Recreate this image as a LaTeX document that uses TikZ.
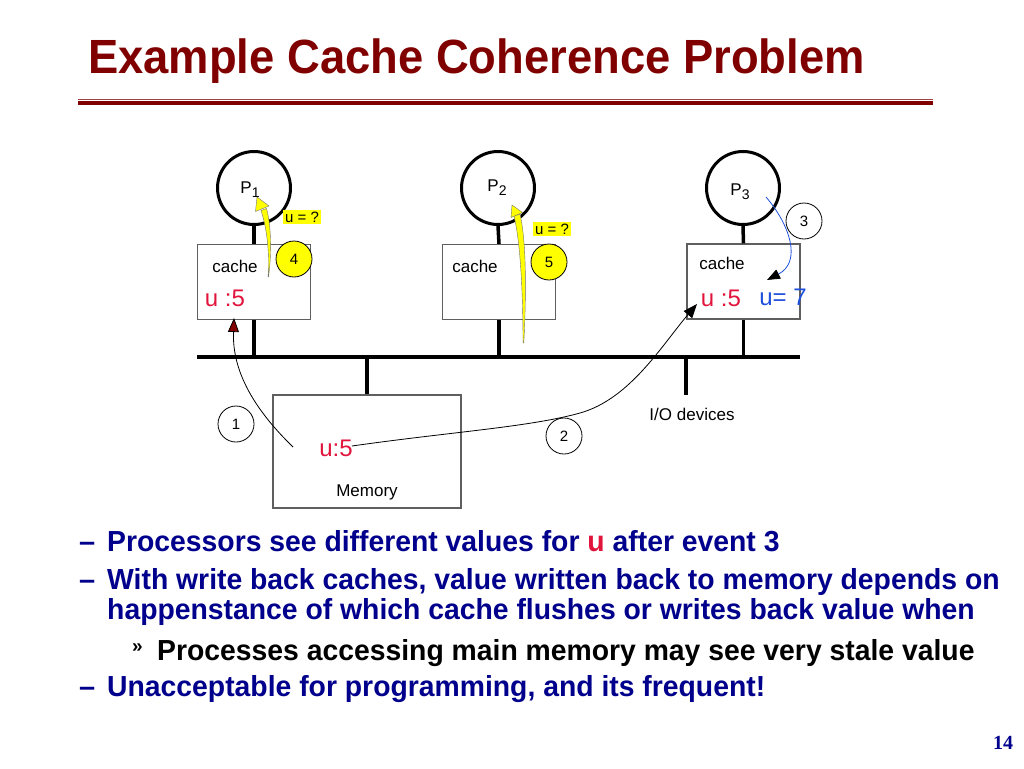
\documentclass[tikz,border=0pt]{standalone}
\usepackage{fontspec}
\setmainfont{Liberation Sans}
\newfontfamily\seriffont{Liberation Serif}
\usetikzlibrary{arrows.meta}
\definecolor{titlered}{RGB}{128,0,0}
\definecolor{navy}{RGB}{0,0,140}
\definecolor{ured}{RGB}{225,20,60}
\definecolor{ublue}{RGB}{30,80,220}
\definecolor{boxgray}{RGB}{95,95,95}
\definecolor{hl}{RGB}{255,255,0}
\definecolor{arrowred}{RGB}{130,0,0}
\newcommand{\bscale}[1]{\scalebox{0.977}[1]{#1}}
\begin{document}
\begin{tikzpicture}[x=1pt,y=-1pt,
  proc/.style={circle,draw,line width=3pt,minimum size=73pt,inner sep=0pt},
  cachebox/.style={rectangle,draw=boxgray,line width=1.2pt,minimum width=113pt,minimum height=75pt,inner sep=0pt},
  stem/.style={line width=3.5pt,black},
  lbl/.style={inner sep=0pt,font=\fontsize{17}{17}\selectfont},
  val/.style={inner sep=0pt,font=\fontsize{24}{24}\selectfont},
  evt/.style={circle,draw,line width=0.8pt,minimum size=36pt,inner sep=0pt,font=\fontsize{15}{15}\selectfont},
  yevt/.style={evt,fill=hl},
  hlabel/.style={fill=hl,inner xsep=2pt,inner ysep=1.5pt,font=\fontsize{15}{15}\selectfont},
  thinarrow/.style={line width=0.8pt,black},
  yband/.style={fill=hl,draw=black!55,line width=0.4pt},
  bullet/.style={anchor=base west,inner sep=0pt,font=\fontsize{29}{29}\selectfont\bfseries,text=navy},
]
\useasboundingbox (0,0) rectangle (1024,768);

% title
\node[anchor=base west,inner sep=0pt,text=titlered,font=\fontsize{48}{48}\selectfont\bfseries] (title) at (88,74) {\scalebox{0.945}[1]{Example Cache Coherence Problem}};
\coordinate (rl) at (78,99.5);
\coordinate (rr) at (933,99.5);
\draw[titlered!75,line width=1pt] (rl) -- (rr);
\draw[titlered,line width=4pt] ([yshift=-3.5pt]rl) -- ([yshift=-3.5pt]rr);

% processors
\node[proc] (p1) at (254,188) {};
\node[proc] (p2) at (498,188) {};
\node[proc] (p3) at (743,188) {};
\node[lbl] (p1l) at (250,190) {P\raisebox{-4pt}{\fontsize{14}{14}\selectfont 1}};
\node[lbl] (p2l) at (497,188) {P\raisebox{-4pt}{\fontsize{14}{14}\selectfont 2}};
\node[lbl] (p3l) at (740,192) {P\raisebox{-4pt}{\fontsize{14}{14}\selectfont 3}};

% caches
\node[cachebox] (c1) at (254,282) {};
\node[cachebox] (c2) at (499,282) {};
\node[cachebox] (c3) at (743.5,281.5) {};
\node[lbl] (c1l) at (235,266) {cache};
\node[lbl] (c2l) at (475,266) {cache};
\node[lbl] (c3l) at (722,263) {cache};

% bus
\coordinate (busL) at (197,357);
\coordinate (busR) at (800,357);
\draw[line width=4pt] (busL) -- (busR);
\draw[stem] (p1.south) -- (c1.north);
\draw[stem] (p2.south) -- (c2.north);
\draw[stem] (p3.south) -- (c3.north);
\draw[stem] (c1.south) -- (c1.south |- busL);
\draw[stem] (c2.south) -- (c2.south |- busL);
\draw[stem] (c3.south) -- (c3.south |- busL);

% memory and IO
\node[cachebox,minimum width=188pt,minimum height=113pt] (mem) at (367,451.5) {};
\draw[stem] (mem.north) -- (mem.north |- busL);
\coordinate (io) at (686,395);
\draw[stem] (io) -- (io |- busL);
\node[lbl] (iol) at (692,414) {I/O devices};
\node[lbl] (meml) at (367,492) {Memory};

% values
\node[val,text=ured] (v1) at (225,298) {u :5};
\node[val,text=ured] (v3) at (721,298) {u :5};
\node[val,text=ublue] (v3n) at (783,297) {u= 7};
\node[val,text=ured] (vm) at (336,448) {u:5};

% event circles
\node[evt] (e1) at (236,424) {1};
\node[evt] (e2) at (564,436) {2};
\node[evt] (e3) at (804,221) {3};
\node[yevt] (e4) at (294,259) {4};
\node[yevt] (e5) at (549,262) {5};
\node[hlabel] (q1) at (302,217) {u = ?};
\node[hlabel] (q2) at (552,229) {u = ?};

% event arrows
\coordinate (a1s) at (293,447);
\coordinate (a1e) at (234,318);
\draw[thinarrow,-{Triangle[length=14pt,width=11pt,fill=arrowred]}] (a1s) .. controls (255,410) and (232,372) .. (a1e);
\coordinate (a2s) at (352,446);
\coordinate (a2m) at (580,413);
\coordinate (a2e) at (697,304);
\draw[thinarrow,-{Triangle[length=14pt,width=11pt]}] (a2s) .. controls (450,432) and (530,427) .. (a2m) .. controls (630,399) and (662,345) .. (a2e);
\coordinate (a3s) at (766,197);
\coordinate (a3e) at (767,280);
\draw[line width=0.8pt,ublue,-{Triangle[length=13pt,width=10pt,color=black]}] (a3s) .. controls (790,225) and (802,262) .. (a3e);

% yellow read arrows
\coordinate (y4b) at (268,277);
\coordinate (y4t) at (257,197);
\draw[yband] (y4b) .. controls (270,250) and (266,225) .. (261,210.5) -- (266.5,208.5) .. controls (271,225) and (272,252) .. (268.5,277) -- cycle;
\draw[yband] (y4t) -- (255.5,211.5) -- (269,206) -- cycle;
\coordinate (y5b) at (523,343);
\coordinate (y5t) at (512,205);
\draw[yband] (y5b) .. controls (523,300) and (521,245) .. (514,216) -- (520,214) .. controls (527,245) and (526,300) .. (523.8,343) -- cycle;
\draw[yband] (y5t) -- (511,217.5) -- (522.5,212.5) -- cycle;

% bullets
\node[bullet] (d1) at (79,551) {–};
\node[bullet] (b1) at (107,551) {\bscale{Processors see different values for \textcolor{ured}{u} after event 3}};
\node[bullet] (d2) at (79,589) {–};
\node[bullet] (b2) at (107,589) {\bscale{With write back caches, value written back to memory depends on}};
\node[bullet] (b3) at (107,619) {\bscale{happenstance of which cache flushes or writes back value when}};
\node[inner sep=0pt,font=\fontsize{19}{19}\selectfont\bfseries] (d4) at (137.5,648) {»};
\node[bullet,text=black] (b4) at (157,660) {\bscale{Processes accessing main memory may see very stale value}};
\node[bullet] (d5) at (79,696) {–};
\node[bullet] (b5) at (107,696) {\bscale{Unacceptable for programming, and its frequent!}};

% page number
\node[inner sep=0pt,text=navy,font=\seriffont\fontsize{20}{20}\selectfont\bfseries] (pg) at (1003,743) {14};
\end{tikzpicture}
\end{document}
